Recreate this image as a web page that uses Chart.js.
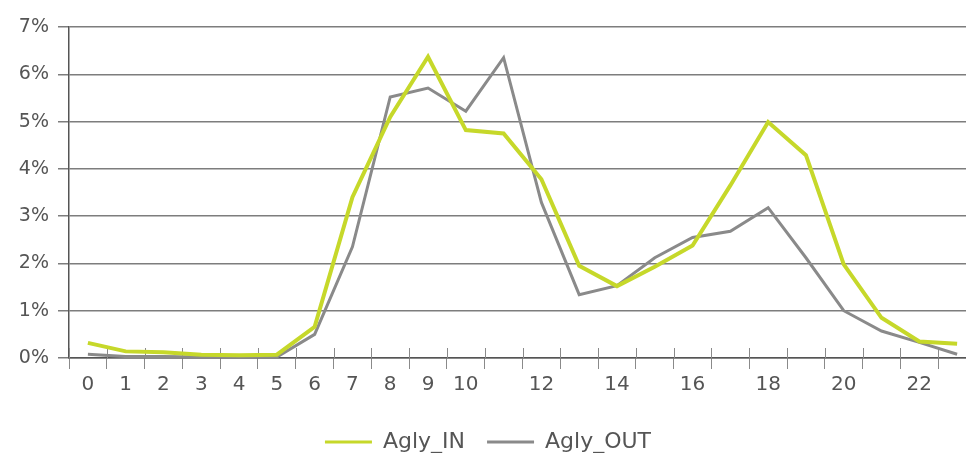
<!DOCTYPE html>
<html>
<head>
<meta charset="utf-8">
<script src="https://cdn.jsdelivr.net/npm/chart.js@4/dist/chart.umd.min.js"></script>
<style>
  html, body { margin: 0; padding: 0; background: #ffffff; overflow: hidden; width: 966px; height: 453px; }
  #wrap { position: relative; width: 990px; height: 463px; }
</style>
</head>
<body>
<div id="wrap"><canvas id="c"></canvas></div>
<script>
const hours = ["0","1","2","3","4","5","6","7","8","9","10","11","12","13","14","15","16","17","18","19","20","21","22","23"];
const aglyIn  = [0.32,0.14,0.12,0.07,0.06,0.07,0.66,3.40,5.10,6.37,4.82,4.75,3.78,1.95,1.52,1.93,2.38,3.65,4.99,4.29,1.98,0.85,0.35,0.30];
const aglyOut = [0.08,0.03,0.03,0.02,0.02,0.02,0.50,2.35,5.52,5.71,5.22,6.35,3.29,1.34,1.53,2.12,2.55,2.68,3.18,2.12,1.00,0.57,0.33,0.08];
const yTicks = [0,1,2,3,4,5,6,7];
const seriesNames = ["Agly_IN", "Agly_OUT"];
const seriesColors = ["#c6d82a", "#8a8a8a"];

const FONT = "'DejaVu Sans', sans-serif";
const TEXT = "#555555";

const innerTicks = {
  id: 'innerTicks',
  beforeDatasetsDraw(chart) {
    const x = chart.scales.x;
    const ctx = chart.ctx;
    ctx.save();
    ctx.strokeStyle = '#8a8a8a';
    ctx.lineWidth = 1;
    for (let i = 0; i <= hours.length; i++) {
      const px = Math.round(x.getPixelForValue(i - 0.5)) + 0.5;
      ctx.beginPath();
      ctx.moveTo(px, x.top - 10);
      ctx.lineTo(px, x.top);
      ctx.stroke();
    }
    ctx.restore();
  }
};

new Chart(document.getElementById('c'), {
  type: 'line',
  data: {
    labels: hours,
    datasets: [
      { label: seriesNames[0], data: aglyIn, borderColor: seriesColors[0], backgroundColor: seriesColors[0], borderWidth: 4, pointRadius: 0, tension: 0 },
      { label: seriesNames[1], data: aglyOut, borderColor: seriesColors[1], backgroundColor: seriesColors[1], borderWidth: 3, pointRadius: 0, tension: 0 }
    ]
  },
  options: {
    responsive: true,
    maintainAspectRatio: false,
    animation: false,
    devicePixelRatio: 1,
    layout: { padding: { left: 0, right: 14, top: 27, bottom: 0 } },
    plugins: {
      tooltip: { enabled: false },
      legend: {
        position: 'bottom',
        labels: {
          font: { family: FONT, size: 22 },
          color: TEXT,
          boxWidth: 47,
          boxHeight: 3,
          padding: 22,
          generateLabels(chart) {
            return chart.data.datasets.map((ds, i) => ({
              text: ds.label,
              fillStyle: ds.borderColor,
              strokeStyle: ds.borderColor,
              lineWidth: 0,
              hidden: false,
              datasetIndex: i,
              fontColor: TEXT
            }));
          }
        }
      }
    },
    scales: {
      x: {
        type: 'category',
        offset: true,
        grid: { offset: true, drawOnChartArea: false, drawTicks: true, tickLength: 11, color: '#8a8a8a', lineWidth: 1 },
        border: { display: true, color: '#555555', width: 1.5 },
        ticks: {
          autoSkip: false,
          maxRotation: 0,
          padding: 4,
          font: { family: FONT, size: 20 },
          color: TEXT,
          callback(v, i) { return (i <= 10 || i % 2 === 0) ? hours[i] : ''; }
        },
        afterFit(scale) { scale.height = 51; }
      },
      y: {
        min: yTicks[0],
        max: yTicks[yTicks.length - 1],
        afterBuildTicks(scale) { scale.ticks = yTicks.map(v => ({ value: v })); },
        grid: { color: '#7d7d7d', lineWidth: 1.5, tickLength: 11 },
        border: { display: true, color: '#555555', width: 1.5 },
        ticks: {
          padding: 9,
          font: { family: FONT, size: 19 },
          color: TEXT,
          callback(v) { return v + '%'; }
        },
        afterFit(scale) { scale.width = 69; }
      }
    }
  },
  plugins: [innerTicks]
});
</script>
</body>
</html>
